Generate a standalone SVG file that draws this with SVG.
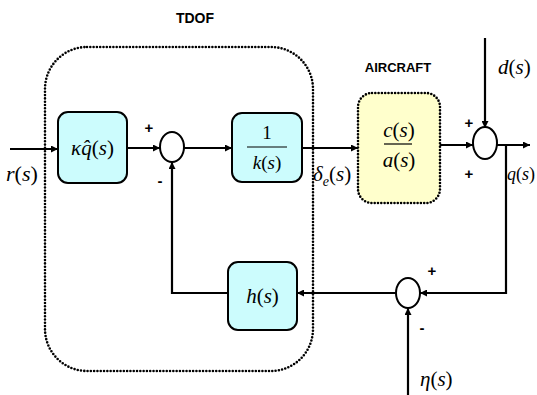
<svg xmlns="http://www.w3.org/2000/svg" width="537" height="395" viewBox="0 0 537 395">
<style>
.blk{fill:#ccfcfd;stroke:#000;stroke-width:2}
.ln{fill:none;stroke:#000;stroke-width:2.2}
.sum{fill:#fff;stroke:#000;stroke-width:2}
.dot{fill:none;stroke:#000;stroke-width:2.6;stroke-dasharray:0 3.3;stroke-linecap:round}
.m{font-family:'Liberation Serif',serif;font-size:21px;fill:#000}
.i{font-style:italic}
.lab{font-family:'Liberation Sans',Arial,sans-serif;font-weight:bold;font-size:13px;fill:#000;text-anchor:middle}
.sg{font-family:'Liberation Sans',Arial,sans-serif;font-weight:bold;font-size:15px;fill:#000;text-anchor:middle}
</style>
<defs>
<marker id="ah" viewBox="0 0 10 10" refX="10" refY="5" markerWidth="9" markerHeight="7" markerUnits="userSpaceOnUse" orient="auto">
<path d="M0,0 L10,5 L0,10 z" fill="#000"/>
</marker>
</defs>
<rect width="537" height="395" fill="#fff"/>
<g id="tdof">
<rect class="dot" x="45" y="47" width="268" height="324" rx="42"/>
<text class="lab" x="195" y="23" style="font-size:14px">TDOF</text>
</g>
<g id="connectors">
<path class="ln" d="M10,149 H58" marker-end="url(#ah)"/>
<path class="ln" d="M127,148 H160" marker-end="url(#ah)"/>
<path class="ln" d="M184,148 H232" marker-end="url(#ah)"/>
<path class="ln" d="M302,148 H358" marker-end="url(#ah)"/>
<path class="ln" d="M440,145 H473" marker-end="url(#ah)"/>
<path class="ln" d="M485,38 V128" marker-end="url(#ah)"/>
<path class="ln" d="M497,145 H530" marker-end="url(#ah)"/>
<path class="ln" d="M506,145 V293 H420" marker-end="url(#ah)"/>
<path class="ln" d="M396,293 H297" marker-end="url(#ah)"/>
<path class="ln" d="M228,293 H172 V162" marker-end="url(#ah)"/>
<path class="ln" d="M408,395 V308" marker-end="url(#ah)"/>
</g>
<g id="kq">
<rect class="blk" x="58" y="112" width="69" height="71" rx="10"/>
<text class="m" x="92.5" y="155" text-anchor="middle"><tspan class="i">κq̂</tspan>(<tspan class="i">s</tspan>)</text>
</g>
<g id="sum1">
<ellipse class="sum" cx="172" cy="147" rx="12" ry="15"/>
<text class="sg" x="149" y="133">+</text>
<text class="sg" x="160" y="186">-</text>
</g>
<g id="invk">
<rect class="blk" x="232" y="113" width="70" height="69" rx="10"/>
<text class="m" x="267" y="139" text-anchor="middle" style="font-size:19px">1</text>
<path d="M247,147 H287" stroke="#000" stroke-width="1.2"/>
<text class="m" x="267" y="169" text-anchor="middle" style="font-size:19px"><tspan class="i">k</tspan>(<tspan class="i">s</tspan>)</text>
</g>
<g id="aircraft">
<rect class="dot" x="358" y="93" width="82" height="110" rx="14" style="fill:#ffffcc"/>
<text class="lab" x="398" y="72">AIRCRAFT</text>
<text class="m" x="399" y="137" text-anchor="middle"><tspan class="i">c</tspan>(<tspan class="i">s</tspan>)</text>
<path d="M384,144 H412" stroke="#000" stroke-width="1.2"/>
<text class="m" x="399" y="167" text-anchor="middle"><tspan class="i">a</tspan>(<tspan class="i">s</tspan>)</text>
</g>
<g id="sum2">
<ellipse class="sum" cx="485" cy="143" rx="12" ry="16"/>
<text class="sg" x="469" y="128">+</text>
<text class="sg" x="469" y="179">+</text>
</g>
<g id="h">
<rect class="blk" x="228" y="262" width="69" height="68" rx="10"/>
<text class="m" x="262.5" y="303" text-anchor="middle"><tspan class="i">h</tspan>(<tspan class="i">s</tspan>)</text>
</g>
<g id="sum3">
<ellipse class="sum" cx="408" cy="293" rx="12" ry="15"/>
<text class="sg" x="432" y="276">+</text>
<text class="sg" x="422" y="333">-</text>
</g>
<g id="labels">
<text class="m" x="6" y="181" style="font-size:22px"><tspan class="i">r</tspan>(<tspan class="i">s</tspan>)</text>
<text class="m" x="313" y="181"><tspan class="i">δ</tspan><tspan class="i" font-size="14" dy="5">e</tspan><tspan dy="-5">(</tspan><tspan class="i">s</tspan>)</text>
<text class="m" x="498" y="74"><tspan class="i">d</tspan>(<tspan class="i">s</tspan>)</text>
<text class="m" x="507" y="180" style="font-size:18px"><tspan class="i">q</tspan>(<tspan class="i">s</tspan>)</text>
<text class="m" x="420" y="386"><tspan class="i">η</tspan>(<tspan class="i">s</tspan>)</text>
</g>
</svg>
